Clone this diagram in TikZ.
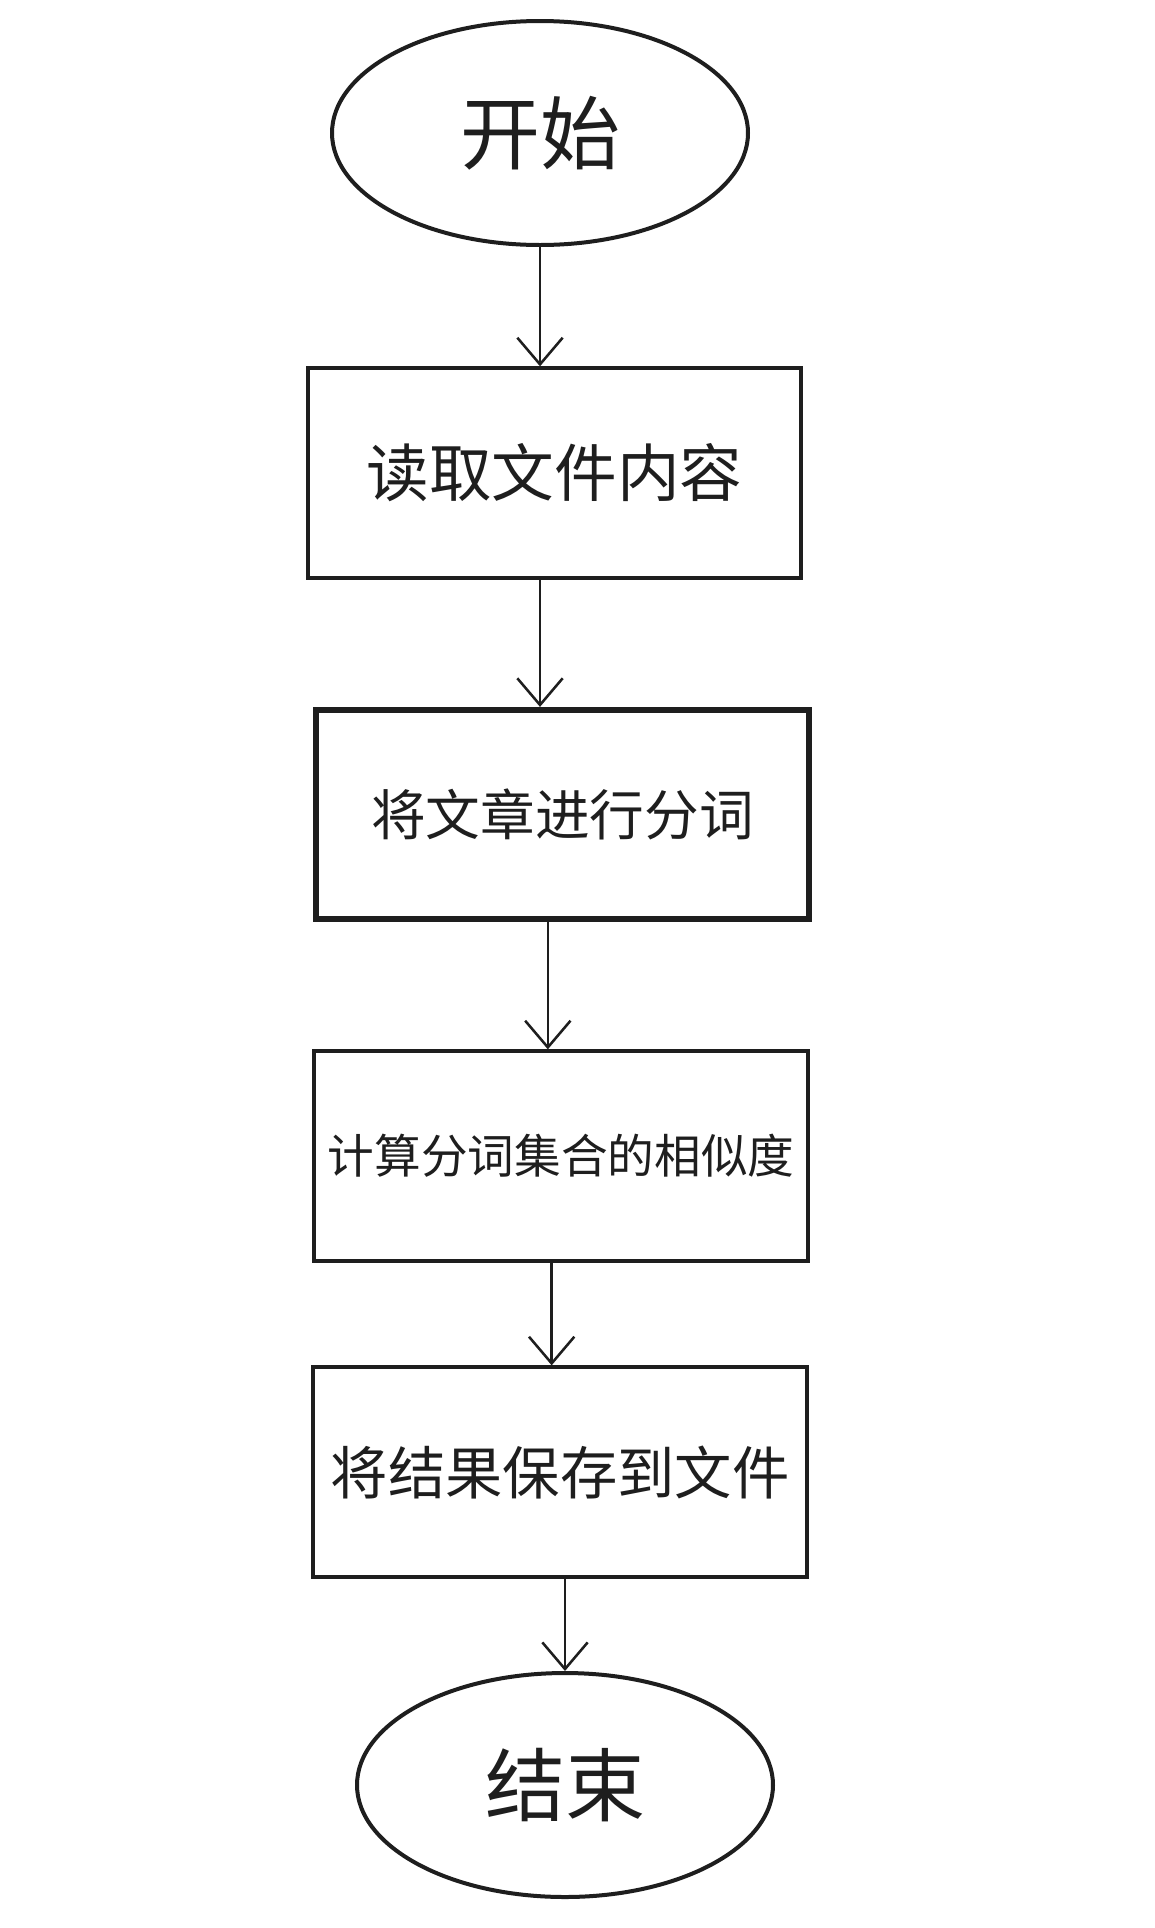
\documentclass[tikz,border=0pt]{standalone}
\usepackage{fontspec}
\setmainfont{Noto Sans CJK SC}
\usetikzlibrary{arrows.meta, shapes.geometric, calc}
\definecolor{inkblack}{HTML}{1E1E1E}

\begin{document}
\begin{tikzpicture}[
    x=0.75pt, y=-0.75pt,
    >={Straight Barb[length=20pt, width=34pt, line width=1.9pt]},
    every node/.style={text=inkblack},
    terminal/.style={ellipse, draw=inkblack, line width=3pt,
      minimum width=312pt, minimum height=168pt, inner sep=0pt},
    stepbox/.style={rectangle, draw=inkblack, line width=3pt,
      minimum width=370pt, minimum height=157pt, inner sep=0pt},
    flow/.style={->, draw=inkblack, line width=1.9pt},
  ]

  % Page
  \useasboundingbox (0,0) rectangle (1154,1928);
  \fill[white] (0,0) rectangle (1154,1928);

  % Nodes
  \node[terminal, font=\fontsize{60}{66}\selectfont] (start) at (540,133) {开始};
  \node[stepbox, font=\fontsize{47}{52}\selectfont] (read) at (554.5,473) {读取文件内容};
  \node[stepbox, line width=4.4pt, font=\fontsize{41}{46}\selectfont]
    (split) at (562.5,814.5) {将文章进行分词};
  \node[stepbox, font=\fontsize{35}{40}\selectfont] (calc) at (561,1156) {计算分词集合的相似度};
  \node[stepbox, font=\fontsize{43}{48}\selectfont] (save) at (560,1472) {将结果保存到文件};
  \node[terminal, font=\fontsize{60}{66}\selectfont] (stop) at (565,1785) {结束};

  % Edges
  \draw[flow] (start.south) -- (start.south |- read.north);
  \draw[flow] (read.south -| start) -- (split.north -| start);
  \draw[flow] ([xshift=-11pt]split.south) -- ([xshift=-11pt]split.south |- calc.north);
  \draw[flow] ([xshift=-7pt]calc.south) -- ([xshift=-7pt]calc.south |- save.north);
  \draw[flow] (save.south -| stop) -- (stop.north);

\end{tikzpicture}
\end{document}
